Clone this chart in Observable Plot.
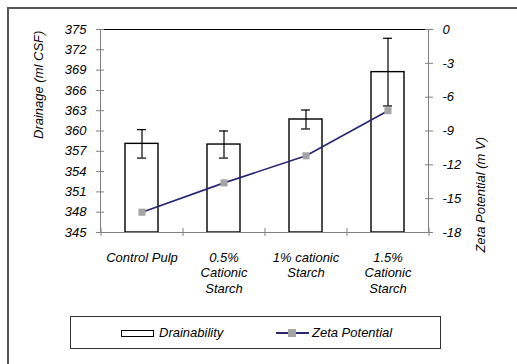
<!DOCTYPE html>
<html>
<head>
<meta charset="utf-8">
<script src="https://cdn.jsdelivr.net/npm/d3@7"></script>
<script src="https://cdn.jsdelivr.net/npm/@observablehq/plot@0.6"></script>
<style>
  body { margin: 0; background: #fff; }
  #wrap { position: relative; width: 517px; height: 364px; overflow: hidden; background: #fff;
          font-family: "Liberation Sans", Arial, sans-serif; font-style: italic; font-size: 13px; color: #000; }
  #frame { position: absolute; left: 7px; top: 7px; width: 700px; height: 700px;
           border-left: 2px solid #575757; border-top: 2px solid #575757; }
  #plot { position: absolute; left: 0; top: 0; }
  #plot text { font-style: italic; font-family: "Liberation Sans", Arial, sans-serif; }
  #legend { position: absolute; left: 70px; top: 316px; width: 369px; height: 31px;
            border: 1.5px solid #333; }
  .sw-bar { position: absolute; left: 50px; top: 13px; width: 31px; height: 5px; border: 1px solid #000; background: #fff; }
  .sw-line { position: absolute; left: 205px; top: 15px; width: 33px; height: 1.5px; background: #262673; }
  .sw-dot { position: absolute; left: 217px; top: 12px; width: 8px; height: 8px; background: #a5a5a5; }
  .lt { position: absolute; top: 8px; line-height: 16px; white-space: nowrap; font-style: italic; }
</style>
</head>
<body>
<div id="wrap">
  <div id="plot"></div>
  <div id="frame"></div>
  <div id="legend">
    <div class="sw-bar"></div><div class="lt" style="left:88px">Drainability</div>
    <div class="sw-line"></div><div class="sw-dot"></div><div class="lt" style="left:241px">Zeta Potential</div>
  </div>
</div>
<script>
const categories = ["Control Pulp", "0.5%\nCationic\nStarch", "1% cationic\nStarch", "1.5%\nCationic\nStarch"];
const drainage = [358.1, 358.0, 361.7, 368.7];
const drainageErr = [2.1, 2.0, 1.4, 5.0];
const zeta = [-16.2, -13.6, -11.2, -7.2];
const leftTicks = [345, 348, 351, 354, 357, 360, 363, 366, 369, 372, 375];
const rightTicks = [-18, -15, -12, -9, -6, -3, 0];
const leftTitle = "Drainage (ml CSF)";
const rightTitle = "Zeta Potential (m V)";

const yDomain = [345, 375];
const zDomain = [-18, 0];
const zToY = z => yDomain[0] + (z - zDomain[0]) * (yDomain[1] - yDomain[0]) / (zDomain[1] - zDomain[0]);
const yToZ = y => zDomain[0] + (y - yDomain[0]) * (zDomain[1] - zDomain[0]) / (yDomain[1] - yDomain[0]);

const rows = categories.map((c, i) => ({cat: c, drain: drainage[i], err: drainageErr[i], zeta: zeta[i]}));

const W = 517, H = 364, mL = 100, mR = 89, mT = 29, mB = 132;
const step = (W - mL - mR) / categories.length;
const gray = "#808080";
const ital = {fontStyle: "italic"};

const chart = Plot.plot({
  width: W, height: H,
  marginLeft: mL, marginRight: mR, marginTop: mT, marginBottom: mB,
  style: {fontFamily: "'Liberation Sans', Arial, sans-serif", fontSize: "13px", fontStyle: "italic", color: "#000", background: "transparent", overflow: "visible"},
  x: {domain: categories, paddingInner: 0.6, paddingOuter: 0.3, axis: null},
  y: {domain: yDomain, axis: null},
  marks: [
    Plot.barY(rows, {x: "cat", y1: yDomain[0], y2: "drain", fill: "white", stroke: "#000", strokeWidth: 1.4}),
    Plot.ruleX(rows, {x: "cat", y1: d => d.drain - d.err, y2: d => d.drain + d.err, stroke: "#000", strokeWidth: 1.2}),
    Plot.tickY(rows, {x: "cat", y: d => d.drain - d.err, insetLeft: 12, insetRight: 12, stroke: "#000", strokeWidth: 1.2}),
    Plot.tickY(rows, {x: "cat", y: d => d.drain + d.err, insetLeft: 12, insetRight: 12, stroke: "#000", strokeWidth: 1.2}),
    Plot.line(rows, {x: "cat", y: d => zToY(d.zeta), stroke: "#262673", strokeWidth: 1.6}),
    Plot.dot(rows, {x: "cat", y: d => zToY(d.zeta), symbol: "square", r: 4, fill: "#a5a5a5", stroke: "none"}),
    Plot.frame({anchor: "left", stroke: gray}),
    Plot.frame({anchor: "right", stroke: gray}),
    Plot.frame({anchor: "bottom", stroke: gray}),
    Plot.frame({anchor: "top", stroke: "#000"}),
    // crossing tick marks
    Plot.axisY({anchor: "left", ticks: leftTicks, tickSize: 8, dx: 4, fill: "none", stroke: gray, label: null}),
    Plot.axisY({anchor: "right", ticks: rightTicks.map(zToY), tickSize: 8, dx: -4, fill: "none", stroke: gray, label: null}),
    Plot.axisX({ticks: categories, tickSize: 8, dx: -step / 2, dy: -4, fill: "none", stroke: gray, label: null}),
    Plot.axisX({ticks: [categories[categories.length - 1]], tickSize: 8, dx: step / 2, dy: -4, fill: "none", stroke: gray, label: null}),
    // tick labels
    Plot.axisY({anchor: "left", ticks: leftTicks, tickSize: 0, tickPadding: 14, label: null, fill: "#000", ...ital}),
    Plot.axisY({anchor: "right", ticks: rightTicks.map(zToY), tickFormat: d => String(Math.round(yToZ(d))), tickSize: 0, tickPadding: 14, label: null, fill: "#000", ...ital}),
    Plot.axisX({ticks: categories, tickSize: 0, tickPadding: 18, lineHeight: 1.2, label: null, fill: "#000", ...ital}),
    // axis titles
    Plot.text([leftTitle], {frameAnchor: "left", dx: -62, dy: 8, rotate: -90, fill: "#000", ...ital}),
    Plot.text([rightTitle], {frameAnchor: "right", dx: 52, dy: 6, rotate: -90, fill: "#000", ...ital})
  ]
});
document.getElementById("plot").appendChild(chart);
</script>
</body>
</html>
